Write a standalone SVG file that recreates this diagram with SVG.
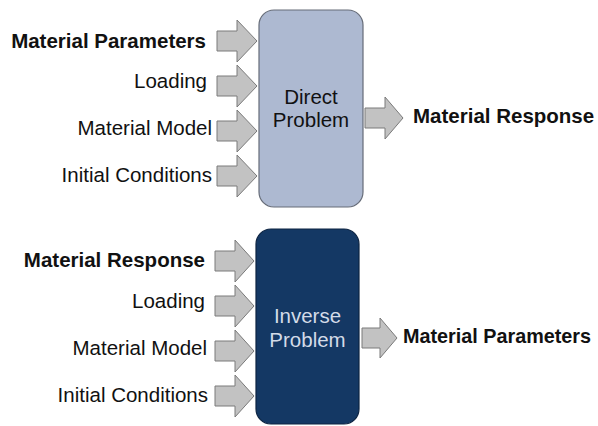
<svg xmlns="http://www.w3.org/2000/svg" width="598" height="426" viewBox="0 0 598 426">
<style>
text{font-family:"Liberation Sans",Arial,sans-serif;font-size:20.5px;fill:#111}
.b{font-weight:bold}
.r{text-anchor:end}
.c{text-anchor:middle}
.arr{fill:#c2c2c2;stroke:#7a7a7a;stroke-width:1}
</style>
<rect width="598" height="426" fill="#fff"/>
<g id="direct-problem">
<rect x="259" y="10" width="104" height="197" rx="15" fill="#adb9d1" stroke="#666c78" stroke-width="1.2"/>
<text class="c" x="311" y="104">Direct</text>
<text class="c" x="311" y="127">Problem</text>
</g>
<g id="inverse-problem">
<rect x="256" y="229" width="103" height="195" rx="15" fill="#143864" stroke="#0d2442" stroke-width="1.2"/>
<text class="c" x="307.5" y="323" style="fill:#d3dbe8">Inverse</text>
<text class="c" x="307.5" y="347" style="fill:#d3dbe8">Problem</text>
</g>
<g id="labels-top">
<text class="b r" x="206" y="48">Material Parameters</text>
<text class="r" x="207" y="88">Loading</text>
<text class="r" x="212" y="135">Material Model</text>
<text class="r" x="212" y="182">Initial Conditions</text>
<text class="b" x="413" y="123">Material Response</text>
</g>
<g id="labels-bottom">
<text class="b r" x="205" y="267">Material Response</text>
<text class="r" x="205" y="308">Loading</text>
<text class="r" x="207" y="355">Material Model</text>
<text class="r" x="208" y="402">Initial Conditions</text>
<text class="b" x="403" y="343" style="font-size:19.8px">Material Parameters</text>
</g>
<g id="connectors">
<path class="arr" d="M217,31 H237 V20 L257,41 L237,62 V51 H217 Z"/>
<path class="arr" d="M217,76 H237 V65 L257,86 L237,107 V96 H217 Z"/>
<path class="arr" d="M217,121 H237 V110 L257,131 L237,152 V141 H217 Z"/>
<path class="arr" d="M217,166 H237 V155 L257,176 L237,197 V186 H217 Z"/>
<path class="arr" d="M365,108 H385 V97 L403,118 L385,139 V128 H365 Z"/>
<path class="arr" d="M215,251 H235 V240 L254,261 L235,282 V271 H215 Z"/>
<path class="arr" d="M215,296 H235 V285 L254,306 L235,327 V316 H215 Z"/>
<path class="arr" d="M215,341 H235 V330 L254,351 L235,372 V361 H215 Z"/>
<path class="arr" d="M215,386 H235 V375 L254,396 L235,417 V406 H215 Z"/>
<path class="arr" d="M362,328 H380 V318 L397,338 L380,358 V348 H362 Z"/>
</g>
</svg>
